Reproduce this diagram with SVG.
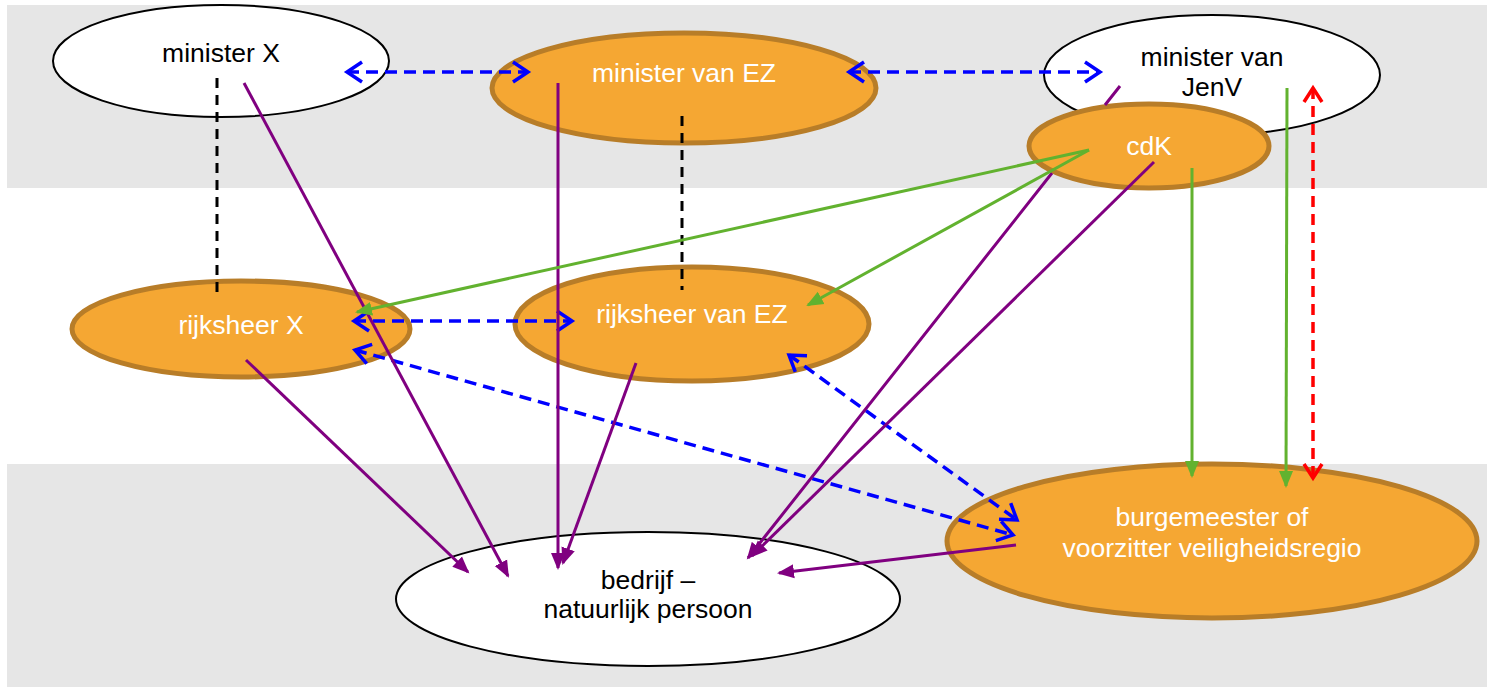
<svg xmlns="http://www.w3.org/2000/svg" width="1493" height="687" viewBox="0 0 1493 687">
<style>
.band{fill:#e6e6e6}
.wn{fill:#ffffff;stroke:#000000;stroke-width:2}
.on{fill:#f5a733;stroke:#b87d28;stroke-width:5}
.t{font-family:"Liberation Sans",Arial,sans-serif;font-size:26.5px;text-anchor:middle}
.tw{fill:#ffffff}
.tb{fill:#000000}
.blk{stroke:#000000;stroke-width:3;stroke-dasharray:10 7;fill:none}
.blu{stroke:#0000ff;stroke-width:3.5;stroke-dasharray:12 7;fill:none;marker-start:url(#chevB);marker-end:url(#chevB)}
.red{stroke:#ff0000;stroke-width:3.5;stroke-dasharray:11 7;fill:none;marker-start:url(#chevR);marker-end:url(#chevR)}
.pur{stroke:#800080;stroke-width:3;fill:none;marker-end:url(#triP)}
.grn{stroke:#62b22f;stroke-width:3;fill:none;marker-end:url(#triG)}
</style>
<defs>
<marker id="chevB" markerUnits="userSpaceOnUse" markerWidth="22" markerHeight="26" viewBox="0 0 22 26" refX="18" refY="13" orient="auto-start-reverse">
<path d="M3,3 L18,13 L3,23" fill="none" stroke="#0000ff" stroke-width="3.5"/>
</marker>
<marker id="chevR" markerUnits="userSpaceOnUse" markerWidth="22" markerHeight="26" viewBox="0 0 22 26" refX="18" refY="13" orient="auto-start-reverse">
<path d="M4,4 L18,13 L4,22" fill="none" stroke="#ff0000" stroke-width="3.5"/>
</marker>
<marker id="triP" markerUnits="userSpaceOnUse" markerWidth="18" markerHeight="16" viewBox="0 0 18 16" refX="15" refY="8" orient="auto">
<path d="M0,1 L17,8 L0,15 z" fill="#800080"/>
</marker>
<marker id="triG" markerUnits="userSpaceOnUse" markerWidth="18" markerHeight="16" viewBox="0 0 18 16" refX="15" refY="8" orient="auto">
<path d="M0,1 L17,8 L0,15 z" fill="#62b22f"/>
</marker>
</defs>
<rect x="0" y="0" width="1493" height="687" fill="#ffffff"/>
<rect class="band" x="7" y="5" width="1480" height="183"/>
<rect class="band" x="7" y="464" width="1480" height="223"/>
<g id="nodes">
<g id="minister-x"><ellipse class="wn" cx="221" cy="61" rx="168" ry="56"/><text class="t tb" x="221" y="62">minister X</text></g>
<g id="minister-ez"><ellipse class="on" cx="684" cy="88" rx="192" ry="55"/><text class="t tw" x="684" y="82">minister van EZ</text></g>
<g id="minister-jenv"><ellipse class="wn" cx="1212" cy="75" rx="168" ry="60"/><text class="t tb" x="1212" y="66">minister van</text><text class="t tb" x="1212" y="96">JenV</text></g>
<g id="cdk"><ellipse class="on" cx="1149" cy="146" rx="120" ry="42"/><text class="t tw" x="1149" y="155">cdK</text></g>
<g id="rijksheer-x"><ellipse class="on" cx="241" cy="329" rx="169" ry="48"/><text class="t tw" x="241" y="334">rijksheer X</text></g>
<g id="rijksheer-ez"><ellipse class="on" cx="692" cy="324" rx="177" ry="57"/><text class="t tw" x="692" y="323">rijksheer van EZ</text></g>
<g id="bedrijf"><ellipse class="wn" cx="648" cy="599" rx="252" ry="67"/><text class="t tb" x="648" y="589">bedrijf –</text><text class="t tb" x="648" y="618">natuurlijk persoon</text></g>
<g id="burgemeester"><ellipse class="on" cx="1212" cy="541" rx="265" ry="77"/><text class="t tw" x="1212" y="526">burgemeester of</text><text class="t tw" x="1212" y="557">voorzitter veiligheidsregio</text></g>
</g>
<g id="connectors">
<line class="blk" x1="217" y1="78" x2="217" y2="298"/>
<line class="blk" x1="682" y1="116" x2="682" y2="290"/>
<line class="blu" x1="347" y1="72" x2="528" y2="72"/>
<line class="blu" x1="849" y1="72" x2="1100" y2="72"/>
<line class="blu" x1="354" y1="321" x2="572" y2="321"/>
<line class="blu" x1="355" y1="350" x2="1013" y2="535"/>
<line class="blu" x1="789" y1="355" x2="1017" y2="520"/>
<line class="red" x1="1313" y1="88" x2="1313" y2="478"/>
<path class="pur" d="M244,83 L508,576"/>
<path class="pur" d="M246,360 L468,572"/>
<path class="pur" d="M558,83 L558,568"/>
<path class="pur" d="M636,363 L563,563"/>
<path class="pur" d="M1120,86 L1105,105 M1052,173 L748,558"/>
<path class="pur" d="M1154,162 L752,556"/>
<path class="pur" d="M1016,545 L779,573"/>
<path class="grn" d="M1089,150 L357,312"/>
<path class="grn" d="M1089,150 L808,305"/>
<path class="grn" d="M1192,168 L1192,476"/>
<path class="grn" d="M1287,88 L1286,486"/>
</g>
</svg>
